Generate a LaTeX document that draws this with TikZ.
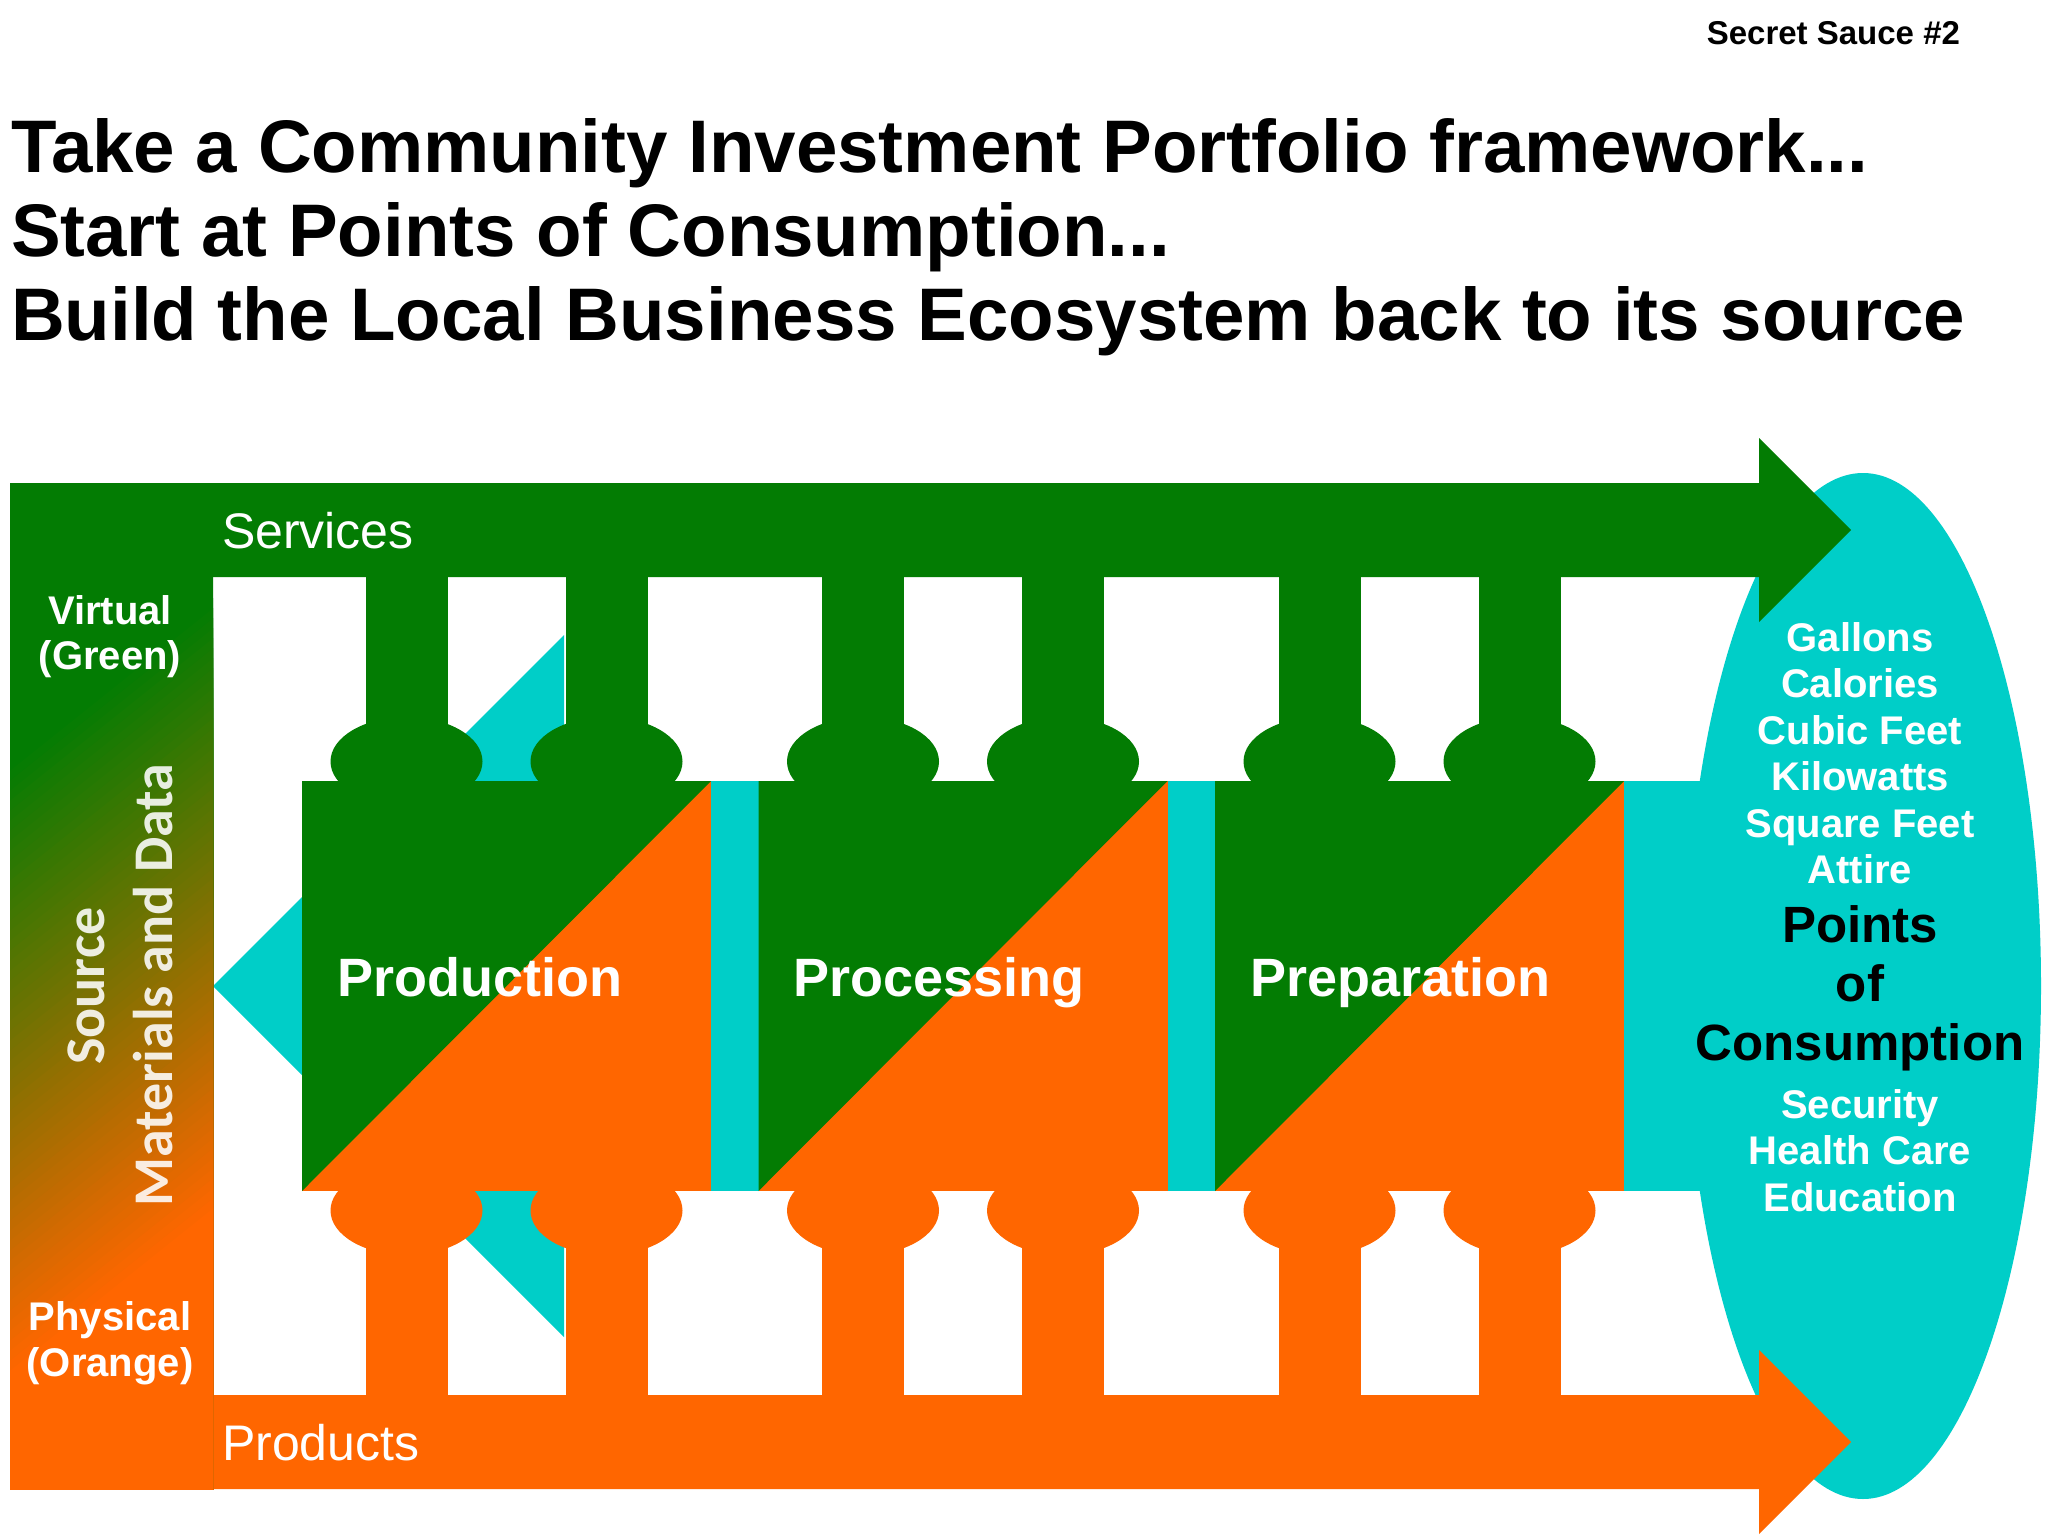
\documentclass[tikz,border=0pt]{standalone}
\usepackage{fontspec}
\setmainfont{Liberation Sans}
\newfontfamily\calib{Carlito}
\definecolor{grn}{RGB}{3,124,3}
\definecolor{org}{RGB}{255,102,0}
\definecolor{cyn}{RGB}{0,206,200}
\begin{document}
\begin{tikzpicture}[x=1pt,y=-1pt,
  txt/.style={inner sep=0pt,outer sep=0pt},
  title/.style={txt,anchor=base west,font=\fontsize{74.5}{84}\selectfont\bfseries},
  blocklabel/.style={txt,anchor=base west,text=white,font=\fontsize{54}{60}\selectfont\bfseries},
  flowlabel/.style={txt,anchor=base west,text=white,font=\fontsize{50}{56}\selectfont},
  sidelabel/.style={txt,anchor=base,text=white,font=\fontsize{40}{46}\selectfont\bfseries},
  srclabel/.style={txt,rotate=90,text=white,text opacity=0.88,font=\fontsize{56}{60}\selectfont\calib\bfseries},
  unitlabel/.style={txt,anchor=base,text=white,font=\fontsize{40}{46}\selectfont\bfseries},
  poclabel/.style={txt,anchor=base,text=black,font=\fontsize{51}{59}\selectfont\bfseries}]
\useasboundingbox (0,0) rectangle (2048,1536);
\fill[white] (0,0) rectangle (2048,1536);

% points of consumption ellipse
\fill[cyn] (1863,986) ellipse [x radius=178, y radius=513];
% cyan connector strip behind blocks
\fill[cyn] (700,781) rectangle (1863,1191);
% cyan left-pointing triangle
\fill[cyn] (213,986) -- (564,635) -- (564,1337) -- cycle;

% services arrow (green)
\fill[grn] (200,483) -- (1759,483) -- (1759,438) -- (1851,530) -- (1759,622) -- (1759,577) -- (200,577) -- cycle;
% products arrow (orange)
\fill[org] (200,1395) -- (1759,1395) -- (1759,1350) -- (1851,1442) -- (1759,1534) -- (1759,1489) -- (200,1489) -- cycle;

% left source panel: diagonal green-to-orange gradient
\begin{scope}
\clip (10,483) rectangle (213,1489);
\fill[grn] (0,470) rectangle (230,1500);
\foreach \i in {0,...,61}{
  \pgfmathsetmacro{\t}{680+\i*10}
  \pgfmathsetmacro{\p}{\i*100/61}
  \fill[org!\p!grn] (0,\t+88.8) -- (230,\t-95.2) -- (230,1600) -- (0,1600) -- cycle;
}
\end{scope}

% stems, bulbs and blocks
\foreach \L in {302,758.5,1215}{
  \pgfmathsetmacro{\C}{\L+204.5}
  \foreach \d in {-100,100}{
    \pgfmathsetmacro{\S}{\C+\d}
    \fill[grn] (\S-41,570) rectangle (\S+41,745);
    \fill[grn] (\S,761.5) ellipse [x radius=76, y radius=44.5];
    \fill[org] (\S-41,1227) rectangle (\S+41,1400);
    \fill[org] (\S,1210.5) ellipse [x radius=76, y radius=44.5];
  }
  \fill[org] (\L,781) rectangle (\L+409,1191);
  \fill[grn] (\L,781) -- (\L+409,781) -- (\L,1191) -- cycle;
}

% block labels
\node[blocklabel] (prod) at (337,996) {Production};
\node[blocklabel] (proc) at (793.5,996) {Processing};
\node[blocklabel] (prep) at (1250,996) {Preparation};

% flow labels
\node[flowlabel] (serv) at (222,548) {Services};
\node[flowlabel] (prods) at (222,1460) {Products};

% side labels
\node[sidelabel] (virt) at (110,624) {Virtual};
\node[sidelabel] (virtg) at (110,669) {(Green)};
\node[sidelabel] (phys) at (110,1330) {Physical};
\node[sidelabel] (physo) at (110,1376) {(Orange)};
\node[srclabel] (src) at (86,986) {Source};
\node[srclabel] (mat) at (153.5,985) {Materials and Data};

% ellipse texts
\node[unitlabel] (u1) at (1860,651) {Gallons};
\node[unitlabel] (u2) at (1860,697) {Calories};
\node[unitlabel] (u3) at (1860,744) {Cubic Feet};
\node[unitlabel] (u4) at (1860,790.5) {Kilowatts};
\node[unitlabel] (u5) at (1860,837) {Square Feet};
\node[unitlabel] (u6) at (1860,883.5) {Attire};
\node[poclabel] (p1) at (1860,942) {Points};
\node[poclabel] (p2) at (1860,1001) {of};
\node[poclabel] (p3) at (1860,1060) {Consumption};
\node[unitlabel] (u7) at (1860,1118) {Security};
\node[unitlabel] (u8) at (1860,1164.5) {Health Care};
\node[unitlabel] (u9) at (1860,1211) {Education};

% titles
\node[title] (t1) at (11,172) {Take a Community Investment Portfolio framework...};
\node[title] (t2) at (11,256) {Start at Points of Consumption...};
\node[title] (t3) at (11,340) {Build the Local Business Ecosystem back to its source};
\node[txt,anchor=base east,font=\fontsize{33}{38}\selectfont\bfseries] (ss) at (1960,45) {Secret Sauce \#2};
\end{tikzpicture}
\end{document}
